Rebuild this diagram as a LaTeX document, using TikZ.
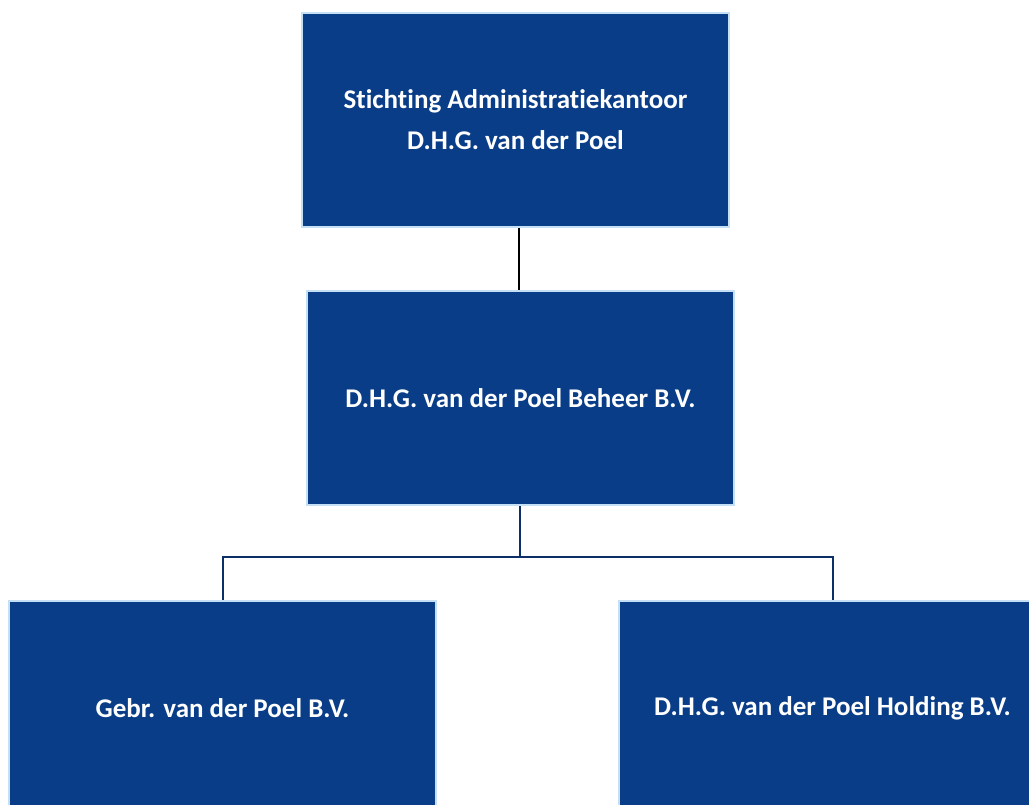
\documentclass[tikz,border=0pt]{standalone}
\usepackage{fontspec}
\setmainfont[Ligatures=NoCommon]{Carlito}
\definecolor{boxfill}{HTML}{0A3D87}
\definecolor{boxline}{HTML}{C5E0F5}
\definecolor{conn}{HTML}{0B2F66}
\begin{document}
\begin{tikzpicture}[x=1pt,y=-1pt,
  orgbox/.style={draw=boxline, line width=2pt, fill=boxfill, text=white,
    minimum width=427pt, minimum height=214pt, inner sep=0pt,
    font=\fontsize{27}{41}\selectfont\bfseries, align=center, anchor=north west},
  link/.style={draw=conn, line width=2pt}]
\clip (0,0) rectangle (1029,804);
\useasboundingbox (0,0) rectangle (1029,804);
\node[orgbox] (top) at (301,12) {Stichting Administratiekantoor\\D.H.G. van der Poel};
\node[orgbox] (mid) at (306,290) {D.H.G. van der Poel Beheer B.V.};
\node[orgbox] (left) at (8,600) {Gebr. van der Poel B.V.};
\node[orgbox] (right) at (618,600) {D.H.G. van der Poel Holding B.V.};
\draw[line width=2pt, black] (top.south -| 519,0) -- (mid.north -| 519,0);
\coordinate (jn) at (520,557);
\draw[link] (mid.south -| jn) -- (jn);
\draw[link] (left.north) |- (jn) -| (right.north);
\end{tikzpicture}
\end{document}
